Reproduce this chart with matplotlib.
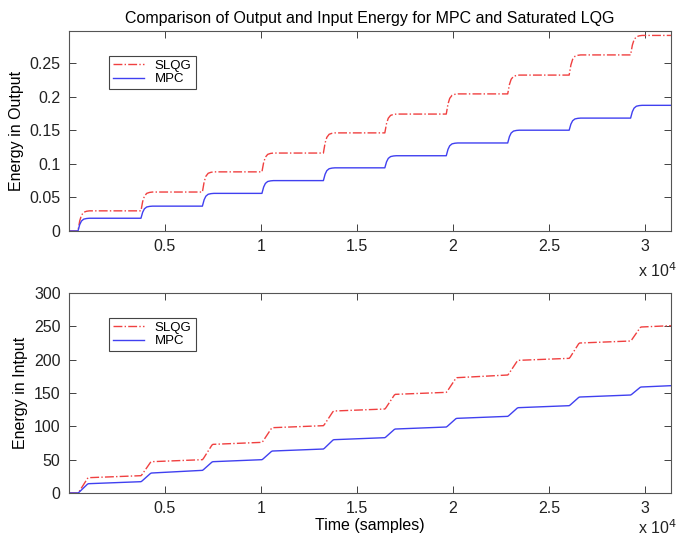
import numpy as np
import matplotlib.pyplot as plt

plt.rcParams['font.family'] = ['Liberation Sans', 'DejaVu Sans']

# time at which each energy step begins (samples)
step_times = [470, 3750, 6950, 10050, 13250, 16450, 19650, 22850, 26050, 29250]
t_end = 31350

# output energy levels (flat steps)
out_slqg = [0.030, 0.058, 0.088, 0.116, 0.146, 0.174, 0.204, 0.232, 0.262, 0.291]
out_mpc = [0.019, 0.037, 0.056, 0.075, 0.094, 0.112, 0.131, 0.150, 0.168, 0.187]

# input energy: value right after each step and just before the next one
in_slqg_start = [23, 47, 73, 98, 123, 148, 173, 199, 225, 249]
in_slqg_end = [26, 50, 76, 101, 126, 151, 177, 202, 228, 251]
in_mpc_start = [14, 30, 47, 63, 80, 96, 112, 128, 144, 159]
in_mpc_end = [17, 34, 50, 66, 83, 99, 115, 131, 147, 161]

xticks = [5000, 10000, 15000, 20000, 25000, 30000]
xticklabels = ['0.5', '1', '1.5', '2', '2.5', '3']


def build(times, starts, ends, dur, prof_t, prof_f):
    xs = [0, times[0]]
    ys = [0, 0]
    prev = 0
    for k, t in enumerate(times):
        for pt, pf in zip(prof_t, prof_f):
            xs.append(t + pt * dur)
            ys.append(prev + (starts[k] - prev) * pf)
        nxt = times[k + 1] if k + 1 < len(times) else t_end
        xs.append(nxt)
        ys.append(ends[k])
        prev = ends[k]
    return xs, ys


round_t = [0.15, 0.3, 0.5, 0.75, 1.0]
round_f = [0.5, 0.78, 0.93, 0.98, 1.0]
lin_t = [0.1, 0.9, 1.0]
lin_f = [0.08, 0.95, 1.0]

red = '#f04040'
blue = '#4040f0'
fs = 11.5

fig = plt.figure(figsize=(6.76, 5.4), dpi=100)
ax1 = fig.add_axes([0.102, 0.5722, 0.8905, 0.3704])
ax2 = fig.add_axes([0.102, 0.0870, 0.8905, 0.3704])

x, y = build(step_times, out_slqg, out_slqg, 600, round_t, round_f)
ax1.plot(x, y, '-.', color=red, lw=1, label='SLQG')
x, y = build(step_times, out_mpc, out_mpc, 600, round_t, round_f)
ax1.plot(x, y, '-', color=blue, lw=1, label='MPC')

x, y = build(step_times, in_slqg_start, in_slqg_end, 550, lin_t, lin_f)
ax2.plot(x, y, '-.', color=red, lw=1, label='SLQG')
x, y = build(step_times, in_mpc_start, in_mpc_end, 550, lin_t, lin_f)
ax2.plot(x, y, '-', color=blue, lw=1, label='MPC')

ax1.set_ylim(0, 0.2976)
ax1.set_yticks([0, 0.05, 0.1, 0.15, 0.2, 0.25])
ax1.set_yticklabels(['0', '0.05', '0.1', '0.15', '0.2', '0.25'])
ax1.set_ylabel('Energy in Output', fontsize=fs, labelpad=4)
ax1.set_title('Comparison of Output and Input Energy for MPC and Saturated LQG',
              fontsize=fs, pad=6)

ax2.set_ylim(0, 300)
ax2.set_yticks([0, 50, 100, 150, 200, 250, 300])
ax2.set_ylabel('Energy in Intput', fontsize=fs, labelpad=4)
ax2.set_xlabel('Time (samples)', fontsize=fs, labelpad=1)

for ax, ty in ((ax1, -0.15), (ax2, -0.125)):
    ax.set_xlim(0, t_end)
    ax.set_xticks(xticks)
    ax.set_xticklabels(xticklabels)
    ax.tick_params(direction='in', top=True, right=True, length=5, width=0.6,
                   labelsize=fs, colors='#222222', pad=6)
    for s in ax.spines.values():
        s.set_linewidth(0.8)
        s.set_color('#555555')
    ax.text(0.945, ty, r'x 10$^4$', transform=ax.transAxes, fontsize=fs,
            ha='left', va='top', color='#222222')
    leg = ax.legend(loc='upper left', bbox_to_anchor=(0.055, 0.91), fontsize=9.5,
                    handlelength=2.4, borderpad=0.3, labelspacing=0.1,
                    fancybox=False, framealpha=1, edgecolor='#444444')
    leg.get_frame().set_linewidth(0.8)

fig.savefig('out.png', dpi=100)
